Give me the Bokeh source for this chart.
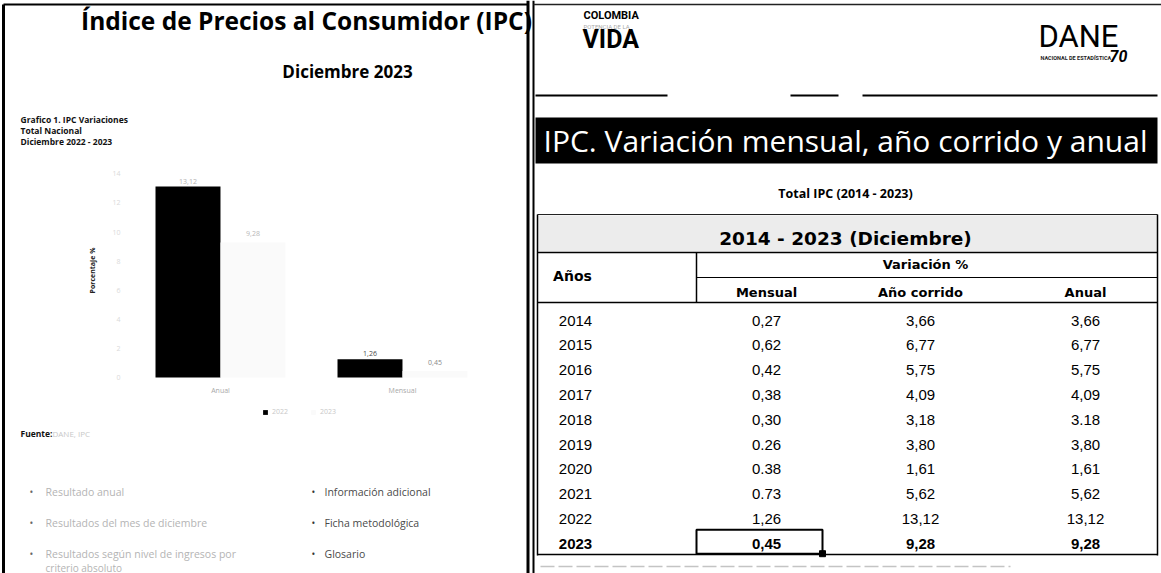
import numpy as np
from bokeh.plotting import figure
from bokeh.models import Range1d, ColumnDataSource, Legend, LegendItem
from bokeh.transform import dodge
from bokeh.embed import file_html
from bokeh.resources import INLINE
from bokeh.core.properties import value

# ---------------- data ----------------
chart_categories = ["Anual", "Mensual"]
values_2022 = [13.12, 1.26]
values_2023 = [9.28, 0.45]
labels_2022 = ["13,12", "1,26"]
labels_2023 = ["9,28", "0,45"]
y_ticks = [0, 2, 4, 6, 8, 10, 12, 14]
series_names = ["2022", "2023"]

table_years = ["2014", "2015", "2016", "2017", "2018", "2019", "2020", "2021", "2022", "2023"]
table_mensual = ["0,27", "0,62", "0,42", "0,38", "0,30", "0.26", "0.38", "0.73", "1,26", "0,45"]
table_ano_corrido = ["3,66", "6,77", "5,75", "4,09", "3,18", "3,80", "1,61", "5,62", "13,12", "9,28"]
table_anual = ["3,66", "6,77", "5,75", "4,09", "3.18", "3,80", "1,61", "5,62", "13,12", "9,28"]
table_columns = ["Mensual", "Año corrido", "Anual"]

left_bullets = ["Resultado anual", "Resultados del mes de diciembre",
                "Resultados según nivel de ingresos por"]
right_bullets = ["Información adicional", "Ficha metodológica", "Glosario"]

OS = value("Open Sans")
ARIAL = value("Liberation Sans")
ROBOTO = value("Roboto")
DEJAVU = value("DejaVu Sans")

# ---------------- page canvas (pixel layout coordinates) ----------------
X0, X1, Y0, Y1 = 0, 1161, 0, 573
# bar-chart placement (layout constants)
CAT0_X, CAT_STEP = 220.0, 182.0      # centre of first category, px per category
BASE_Y, PX_PER_UNIT = 377.0, 14.55   # y of value 0, px per percentage point

p = figure(width=X1 - X0, height=Y1 - Y0, output_backend="svg", toolbar_location=None,
           x_range=Range1d(X0, X1), y_range=Range1d(Y1, Y0),
           x_axis_type=None, y_axis_type=None, min_border=0,
           outline_line_color=None)
p.grid.visible = False
p.extra_x_ranges = {"cat": Range1d((X0 - CAT0_X) / CAT_STEP, (X1 - CAT0_X) / CAT_STEP)}
p.extra_y_ranges = {"val": Range1d((BASE_Y - Y1) / PX_PER_UNIT, (BASE_Y - Y0) / PX_PER_UNIT)}


def txt(x, y, s, size, color="#000000", style="normal", font=OS,
        align="left", baseline="middle", angle=0.0):
    p.text(x=[x], y=[y], text=[s], text_font=font, text_font_size=size,
           text_color=color, text_font_style=style, text_align=align,
           text_baseline=baseline, angle=angle)


# ================= LEFT PANEL =================
p.line(x=[3, 3], y=[4, Y1], line_color="#000000", line_width=3)
p.line(x=[3, 527], y=[4, 4], line_color="#000000", line_width=2)
txt(306, 20, "Índice de Precios al Consumidor (IPC)", "24.5px", style="bold", align="center")
txt(347, 71, "Diciembre 2023", "17px", style="bold", align="center")
txt(20, 119, "Grafico 1. IPC Variaciones", "8.5px", "#111111", "bold")
txt(20, 130, "Total Nacional", "8.5px", "#111111", "bold")
txt(20, 141, "Diciembre 2022 - 2023", "8.5px", "#111111", "bold")

# bar chart
src = ColumnDataSource(dict(xi=list(range(len(chart_categories))), cat=chart_categories,
                            v22=values_2022, v23=values_2023,
                            l22=labels_2022, l23=labels_2023,
                            c22=["#b4b4b4", "#4a4a4a"], c23=["#b8b8b8", "#8a8a8a"]))
r22 = p.vbar(x=dodge("xi", -0.1786), top="v22", bottom=0, width=0.357, source=src,
             fill_color="#000000", line_color=None, x_range_name="cat", y_range_name="val")
r23 = p.vbar(x=dodge("xi", 0.1786), top="v23", bottom=0, width=0.357, source=src,
             fill_color="#fafafa", line_color=None, x_range_name="cat", y_range_name="val")
p.text(x=dodge("xi", -0.1786), y="v22", text="l22", source=src, x_range_name="cat",
       y_range_name="val", text_align="center", text_baseline="bottom", y_offset=-3,
       text_font=OS, text_font_size="7px", text_color="c22")
p.text(x=dodge("xi", 0.1786), y="v23", text="l23", source=src, x_range_name="cat",
       y_range_name="val", text_align="center", text_baseline="bottom", y_offset=-6,
       text_font=OS, text_font_size="7px", text_color="c23")
# y tick labels drawn on the value scale
p.text(x=[120] * len(y_ticks), y=y_ticks, text=[str(t) for t in y_ticks],
       y_range_name="val", text_align="right", text_baseline="middle",
       text_font=OS, text_font_size="7px", text_color="#dadada")
txt(92, 270, "Porcentaje %", "7px", "#222222", "bold", align="center", angle=np.pi / 2)
# category labels on the category scale
p.text(x="xi", y=390, text="cat", source=src, x_range_name="cat",
       text_align="center", text_baseline="middle", text_font=OS, text_font_size="7px",
       text_color="#a8a8a8")
legend = Legend(items=[LegendItem(label=series_names[0], renderers=[r22]),
                       LegendItem(label=series_names[1], renderers=[r23])],
                orientation="horizontal", location=(262, 157),
                label_text_font_size="7px", label_text_color="#c8c8c8",
                label_text_font="Open Sans",
                glyph_height=6, glyph_width=6, label_height=6, label_standoff=4,
                spacing=18, padding=2, margin=0, border_line_color=None,
                background_fill_alpha=0)
p.add_layout(legend)

# footer
txt(20, 433, "Fuente:", "8.5px", "#111111", "bold")
txt(52, 433, "DANE, IPC", "8px", "#c8c8c8")
bullet_y = [491, 522, 553]
p.text(x=[31] * 3, y=bullet_y, text=["•"] * 3, text_font=OS, text_font_size="10px",
       text_color="#666666", text_baseline="middle", text_align="center")
p.text(x=[45] * 3, y=bullet_y, text=left_bullets, text_font=OS, text_font_size="10.5px",
       text_color="#b4b4b4", text_baseline="middle")
txt(45, 567, "criterio absoluto", "10px", "#b4b4b4")
p.text(x=[313] * 3, y=bullet_y, text=["•"] * 3, text_font=OS, text_font_size="10px",
       text_color="#333333", text_baseline="middle", text_align="center")
p.text(x=[324] * 3, y=bullet_y, text=right_bullets, text_font=OS, text_font_size="10.5px",
       text_color="#4a4a4a", text_baseline="middle")

# ================= RIGHT PANEL =================
p.line(x=[527.5, 527.5], y=[Y0, Y1], line_color="#000000", line_width=3)
p.line(x=[533, 533], y=[Y0, Y1], line_color="#000000", line_width=2)
p.line(x=[533, X1], y=[4, 4], line_color="#222222", line_width=1.5)
# logos
txt(583, 15, "COLOMBIA", "11px", "#000000", "bold", ROBOTO)
txt(583, 26, "POTENCIA DE LA", "6px", "#aaaaaa", "normal", ROBOTO)
txt(582, 39, "VIDA", "25px", "#000000", "bold", ROBOTO)
txt(1038, 36, "DANE", "31px", "#000000", "normal", ROBOTO)
txt(1040, 57, "NACIONAL DE ESTADÍSTICA", "5.5px", "#222222", "bold", ROBOTO)
txt(1109, 55, "70", "16px", "#000000", "bold italic", ROBOTO)
for xs in ([535, 667], [790, 838], [862, 1157]):
    p.line(x=xs, y=[95, 95], line_color="#000000", line_width=2)
# banner
p.quad(left=[535], right=[1157], top=[117], bottom=[163], fill_color="#000000", line_color=None)
txt(845, 140, "IPC. Variación mensual, año corrido y anual", "30px", "#ffffff", "normal", OS,
    "center")
txt(845, 193, "Total IPC (2014 - 2023)", "12.5px", "#000000", "bold", OS, "center")
# table frame
p.quad(left=[537], right=[1157], top=[215], bottom=[251], fill_color="#ececec", line_color=None)
p.line(x=[537, 1157], y=[214, 214], line_color="#222222", line_width=1)
p.line(x=[537, 1157], y=[252, 252], line_color="#000000", line_width=1.5)
p.line(x=[696, 1157], y=[277, 277], line_color="#000000", line_width=1)
p.line(x=[537, 1157], y=[302, 302], line_color="#000000", line_width=1.5)
p.line(x=[696, 696], y=[252, 302], line_color="#000000", line_width=1.5)
p.line(x=[537, 537], y=[214, 555], line_color="#000000", line_width=1.5)
p.line(x=[1157, 1157], y=[214, 555], line_color="#000000", line_width=1.5)
p.line(x=[537, 1157], y=[554, 554], line_color="#000000", line_width=1.5)
p.line(x=[540, 1010], y=[566, 566], line_color="#c4c4c4", line_width=1.5, line_dash="14 4")
txt(845, 238, "2014 - 2023 (Diciembre)", "18.5px", "#000000", "bold", DEJAVU, "center")
txt(572, 275, "Años", "14px", "#000000", "bold", DEJAVU, "center")
txt(925, 264, "Variación %", "13px", "#000000", "bold", DEJAVU, "center")
col_x = [766, 920, 1085]
p.text(x=col_x, y=[292] * 3, text=table_columns, text_font=DEJAVU, text_font_size="13px",
       text_font_style="bold", text_align="center", text_baseline="middle")
# rows
n = len(table_years)
row_y = 320 + 24.8 * np.arange(n)
weights = ["normal"] * (n - 1) + ["bold"]
tsrc = ColumnDataSource(dict(y=row_y, yr=table_years, m=table_mensual, a=table_ano_corrido,
                             an=table_anual, w=weights))
for xc, field in zip([575] + col_x, ["yr", "m", "a", "an"]):
    p.text(x=xc, y="y", text=field, source=tsrc, text_font=ARIAL, text_font_size="15px",
           text_font_style="w", text_align="center", text_baseline="middle",
           text_color="#000000")
# highlighted cell for 2023 mensual
p.quad(left=[696], right=[822], top=[row_y[-1] - 14], bottom=[row_y[-1] + 10],
       fill_color=None, line_color="#000000", line_width=2)
p.scatter(x=[822], y=[row_y[-1] + 10], marker="square", size=6, color="#000000")

open("out.html", "w").write(file_html(p, INLINE))
